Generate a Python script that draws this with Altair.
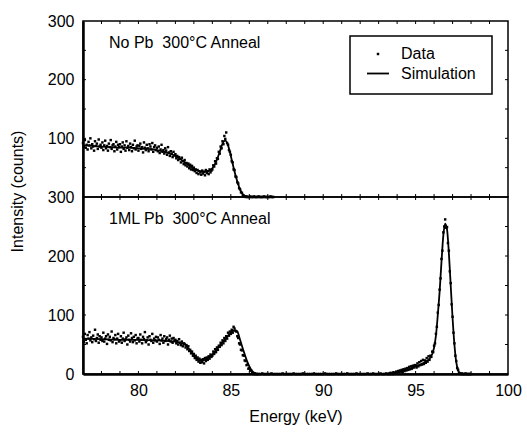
import altair as alt
import pandas as pd

FONT = "Liberation Sans"
FS = 16
W = 425
H_TOP = 176
H_BOT = 177

# ---------------- data (counts) ----------------
# Top panel "No Pb" measured points, channel step 0.05 keV starting at 77.00 keV
top_counts = [
    92, 85, 97, 84, 89, 81, 94, 88, 100, 83, 90, 86, 79, 95, 87, 91, 82, 98, 86, 89,
    84, 93, 80, 88, 96, 83, 87, 79, 91, 85, 97, 82, 88, 90, 78, 86, 94, 81, 89, 85,
    90, 77, 86, 93, 82, 88, 79, 95, 84, 87, 80, 91, 85, 78, 89, 83, 96, 81, 86, 88,
    79, 87, 91, 82, 85, 76, 93, 84, 80, 89, 83, 78, 90, 86, 81, 92, 77, 85, 88, 80,
    84, 78, 86, 75, 81, 89, 77, 80, 74, 83, 79, 72, 85, 76, 70, 78, 74, 68, 77, 71,
    73, 66, 70, 63, 68, 65, 59, 67, 61, 56, 63, 54, 58, 52, 57, 49, 55, 47, 53, 46,
    50, 44, 47, 41, 46, 39, 44, 42, 38, 45, 40, 43, 37, 46, 41, 44, 39, 47, 42, 45,
    47, 54, 52, 61, 57, 66, 65, 77, 74, 86, 83, 95, 90, 104, 99, 110, 92, 89, 80, 77,
    72, 61, 59, 47, 46, 35, 34, 25, 23, 15, 13, 8, 7, 3, 2, 1, 0, 1, 0, 0,
    0, 1, 0, 0, 0, 1, 0, 0, 0, 0, 1, 0, 0, 0, 0, 0, 1, 0, 0, 0, 0, 0, 0, 1, 0, 0, 0,
]

# Bottom panel "1ML Pb" measured points in three channel segments
bot_counts_a = [  # 77.00 .. 86.45 keV, step 0.05
    63, 55, 68, 58, 52, 66, 60, 71, 57, 62, 54, 65, 59, 75, 56, 61, 67, 53, 64, 58,
    62, 56, 70, 55, 60, 64, 51, 67, 58, 63, 57, 72, 54, 61, 59, 66, 52, 60, 68, 55,
    57, 64, 53, 60, 70, 56, 59, 62, 50, 65, 58, 55, 69, 61, 54, 63, 57, 66, 52, 60,
    61, 55, 67, 58, 52, 63, 59, 71, 54, 57, 62, 50, 64, 58, 56, 68, 53, 60, 57, 63,
    55, 62, 58, 51, 66, 57, 60, 53, 64, 56, 59, 62, 50, 58, 65, 55, 60, 53, 61, 57,
    58, 52, 56, 50, 59, 53, 49, 55, 47, 52, 51, 45, 49, 42, 47, 39, 41, 35, 38, 31,
    34, 27, 31, 24, 28, 21, 26, 19, 24, 20, 25, 18, 27, 22, 28, 24, 30, 26, 33, 29,
    31, 38, 34, 42, 37, 45, 41, 48, 46, 53, 49, 57, 52, 61, 56, 64, 60, 70, 65, 72,
    68, 75, 70, 80, 77, 73, 72, 64, 61, 52, 50, 41, 40, 32, 31, 23, 22, 15, 16, 9,
    10, 6, 6, 2, 2, 0, 1, 0, 0, 0,
]
bot_counts_b = [  # 86.5 .. 93.4 keV, step 0.1
    0, 0, 1, 0, 0, 0, 0, 1, 0, 0, 0, 0, 0, 1, 0, 0, 0, 0, 0, 1,
    0, 0, 0, 0, 1, 0, 0, 0, 0, 0, 1, 0, 0, 0, 0, 0, 1, 0, 0, 0,
    0, 0, 1, 0, 0, 0, 0, 0, 1, 0, 0, 0, 0, 1, 0, 0, 0, 0, 0, 1,
    0, 0, 1, 0, 0, 0, 1, 0, 0, 1,
]
bot_counts_c = [  # 93.50 .. 98.00 keV, step 0.05
    0, 1, 0, 2, 1, 0, 3, 2, 1, 4,
    2, 5, 3, 6, 4, 7, 3, 8, 5, 9, 6, 10, 7, 12, 8, 13, 9, 14, 11, 15,
    15, 11, 18, 13, 20, 15, 22, 16, 24, 17, 23, 19, 27, 21, 30, 24, 31, 29, 38, 37,
    48, 52, 68, 80, 104, 117, 143, 162, 195, 209, 240, 250, 262, 248, 249, 222, 209, 174, 154, 118,
    97, 70, 52, 31, 22, 10, 7, 2, 1, 0, 1, 0, 0, 0, 1, 0, 0, 0, 0, 0,
    0,
]

# Simulation curves
top_sim_e = [77, 77.5, 78, 78.5, 79, 79.5, 80, 80.5, 81, 81.5, 82, 82.3, 82.6, 82.9,
             83.2, 83.5, 83.8, 84.0, 84.2, 84.4, 84.55, 84.7, 84.85, 85.0, 85.15,
             85.3, 85.45, 85.6, 85.75, 85.9, 87.3]
top_sim_v = [88, 87, 86, 85, 84, 84, 83, 82, 80, 76, 70, 64, 57, 50,
             45, 43, 44, 49, 60, 77, 91, 96, 88, 70, 50,
             32, 17, 7, 2, 0, 0]

bot_sim_e = [77, 78, 79, 80, 81, 82, 82.5, 82.8, 83.0, 83.2, 83.4, 83.6, 83.9,
             84.2, 84.5, 84.8, 85.0, 85.2, 85.35, 85.5, 85.7, 85.9, 86.1, 86.3, 86.5,
             93.5, 94, 94.5, 95, 95.5, 95.8, 95.9, 96.0, 96.1, 96.2, 96.3, 96.4,
             96.5, 96.6, 96.7, 96.8, 96.9, 97.0, 97.1, 97.2, 97.3, 97.4, 97.5, 98.0]
bot_sim_v = [60, 59, 58, 58, 57, 55, 50, 40, 32, 25, 22, 24, 30,
             40, 52, 63, 70, 74, 72, 58, 38, 20, 7, 1, 0,
             0, 3, 7, 13, 20, 28, 34, 45, 65, 100, 140, 190,
             235, 255, 245, 205, 150, 95, 50, 20, 6, 1, 0, 0]

x_tick_pos = [78, 79, 80, 81, 82, 83, 84, 85, 86, 87, 88, 89, 90, 91, 92, 93, 94, 95, 96, 97, 98, 99]
y_tick_pos = [50, 100, 150, 200, 250]

top_label = "No Pb\u00a0 300°C Anneal"
bot_label = "1ML Pb\u00a0 300°C Anneal"
legend_labels = ["Data", "Simulation"]


def grid(start, step, n):
    return [round(start + step * i, 3) for i in range(n)]


top_df = pd.DataFrame({"e": grid(77.0, 0.05, len(top_counts)), "v": top_counts})
bot_e = (grid(77.0, 0.05, len(bot_counts_a)) + grid(86.5, 0.1, len(bot_counts_b))
         + grid(93.5, 0.05, len(bot_counts_c)))
bot_df = pd.DataFrame({"e": bot_e, "v": bot_counts_a + bot_counts_b + bot_counts_c})
top_sim = pd.DataFrame({"e": top_sim_e, "v": top_sim_v})
bot_sim = pd.DataFrame({"e": bot_sim_e, "v": bot_sim_v})
xt_df = pd.DataFrame({"e": x_tick_pos})
yt_df = pd.DataFrame({"v": y_tick_pos})


def make_panel(data_df, sim_df, label, height, x_axis, y_axis, legend):
    xenc = alt.X("e:Q", scale=alt.Scale(domain=[77, 100], nice=False, zero=False), axis=x_axis)
    yenc = alt.Y("v:Q", scale=alt.Scale(domain=[0, 300], nice=False), axis=y_axis)

    layers = []
    # inside ticks
    layers.append(alt.Chart(xt_df).mark_rule(color="black", strokeWidth=1).encode(
        x=xenc, y=alt.value(height), y2=alt.value(height - 3)))
    layers.append(alt.Chart(xt_df).mark_rule(color="black", strokeWidth=1).encode(
        x=xenc, y=alt.value(0), y2=alt.value(3)))
    layers.append(alt.Chart(yt_df).mark_rule(color="black", strokeWidth=1).encode(
        y=yenc, x=alt.value(0), x2=alt.value(3)))
    layers.append(alt.Chart(yt_df).mark_rule(color="black", strokeWidth=1).encode(
        y=yenc, x=alt.value(W - 3), x2=alt.value(W)))

    layers.append(alt.Chart(data_df).mark_square(size=6, color="black", opacity=1).encode(
        x=xenc, y=yenc))
    layers.append(alt.Chart(sim_df).mark_line(color="black", strokeWidth=1.8,
                                              interpolate="monotone").encode(x=xenc, y=yenc))
    layers.append(alt.Chart(pd.DataFrame({"t": [label]})).mark_text(
        align="left", baseline="middle", font=FONT, fontSize=FS, color="black").encode(
        x=alt.value(26), y=alt.value(21.5), text="t:N"))

    if legend:
        one = pd.DataFrame({"k": [0]})
        layers.append(alt.Chart(one).mark_rect(fill="white", stroke="black", strokeWidth=1.5).encode(
            x=alt.value(267), x2=alt.value(409), y=alt.value(15), y2=alt.value(73)))
        layers.append(alt.Chart(one).mark_square(size=6, color="black", opacity=1).encode(
            x=alt.value(295), y=alt.value(33)))
        layers.append(alt.Chart(one).mark_rule(color="black", strokeWidth=1.8).encode(
            x=alt.value(284), x2=alt.value(306), y=alt.value(52.5)))
        layers.append(alt.Chart(pd.DataFrame({"t": [legend_labels[0]]})).mark_text(
            align="left", baseline="middle", font=FONT, fontSize=FS, color="black").encode(
            x=alt.value(318), y=alt.value(33), text="t:N"))
        layers.append(alt.Chart(pd.DataFrame({"t": [legend_labels[1]]})).mark_text(
            align="left", baseline="middle", font=FONT, fontSize=FS, color="black").encode(
            x=alt.value(318), y=alt.value(52.5), text="t:N"))

    return alt.layer(*layers).properties(width=W, height=height)


common_y = dict(ticks=False, labelPadding=9, domainWidth=2.5, domainColor="black",
                grid=False, labelFontSize=FS, labelFont=FONT, labelColor="black",
                labelOverlap=False)

top_y_axis = alt.Axis(values=[100, 200, 300], title=None, **common_y)
bot_y_axis = alt.Axis(values=[0, 100, 200, 300], title="Intensity (counts)", titleY=-6,
                      titlePadding=22, titleFontSize=FS, titleFont=FONT,
                      titleFontWeight="normal", titleColor="black", **common_y)
bot_x_axis = alt.Axis(values=[80, 85, 90, 95, 100], title="Energy (keV)", ticks=False,
                      labelPadding=8, titlePadding=10, labelFlush=False, labelOverlap=False,
                      domainWidth=2.5, domainColor="black", grid=False,
                      labelFontSize=FS, labelFont=FONT, labelColor="black",
                      titleFontSize=FS, titleFont=FONT, titleFontWeight="normal",
                      titleColor="black")

top = make_panel(top_df, top_sim, top_label, H_TOP, None, top_y_axis, True)
bottom = make_panel(bot_df, bot_sim, bot_label, H_BOT, bot_x_axis, bot_y_axis, False)

chart = alt.vconcat(top, bottom, spacing=0, bounds="flush").properties(
    padding={"left": 8, "top": 12, "right": 0, "bottom": 0},
    background="white",
).configure_view(stroke="black", strokeWidth=1.5)

chart.save("out.html", embed_options={"renderer": "svg", "actions": False})
